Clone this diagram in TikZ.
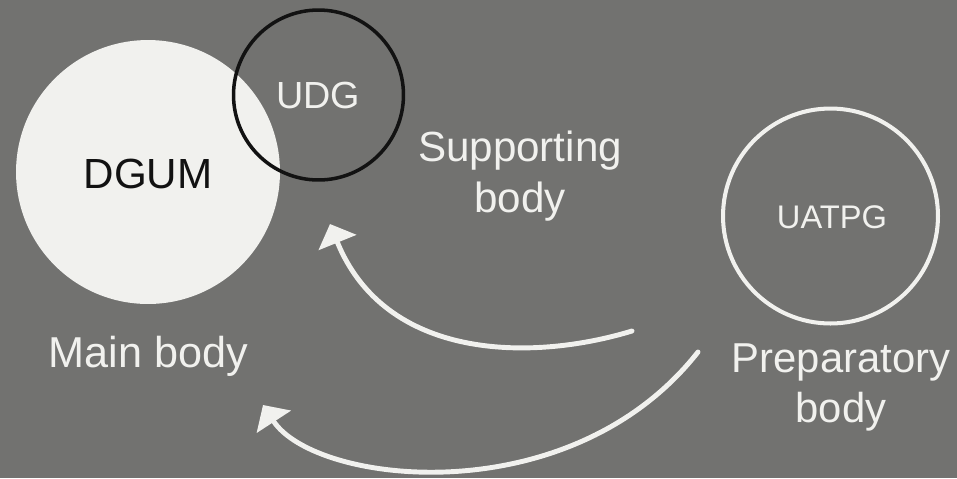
\documentclass[tikz,border=0pt]{standalone}
\usepackage{fontspec}
\setmainfont{Liberation Sans}
\usetikzlibrary{arrows.meta}
\definecolor{slidegray}{RGB}{114,114,112}
\definecolor{bodywhite}{RGB}{241,241,238}
\definecolor{udgblack}{RGB}{18,18,18}
\tikzstyle{every path}=[line cap=round,line join=round]
\tikzstyle{body}=[circle,inner sep=0pt]
\tikzstyle{name text}=[inner sep=0pt,text=bodywhite]
\tikzstyle{flow}=[draw=bodywhite,line width=2.8pt,-{Triangle[width=0.8cm,length=0.4cm]}]

\begin{document}
\begin{tikzpicture}[x=0.02cm,y=-0.02cm]
    % Slide background
    \fill[slidegray] (0,0) rectangle (957,478);
    \useasboundingbox (0,0) rectangle (957,478);

    % Bodies
    \node[body,fill=bodywhite,minimum size=5.28cm] (dgum) at (148,172) {};
    \node[body,draw=udgblack,line width=2pt,minimum size=3.4cm] (udg) at (318.5,95) {};
    \node[body,draw=bodywhite,line width=2.3pt,minimum size=4.3cm] (uatpg) at (830.5,216) {};

    % Names inside the bodies
    \node[name text,text=udgblack,anchor=base,font=\fontsize{24}{28}\selectfont] (dgumname) at (148,188) {DGUM};
    \node[name text,anchor=base,font=\fontsize{21.5}{25}\selectfont] (udgname) at (318,108) {UDG};
    \node[name text,anchor=base,font=\fontsize{18.6}{22}\selectfont] (uatpgname) at (832,228) {UATPG};

    % Captions
    \node[name text,anchor=base,font=\fontsize{24.6}{29}\selectfont] (mainbody) at (148.5,367) {Main body};
    \node[name text,align=center,font=\fontsize{24}{29}\selectfont] (supporting) at (520,176) {Supporting\\body};
    \node[name text,align=center,font=\fontsize{23.8}{28.5}\selectfont] (preparatory) at (841,387) {Preparatory\\body};

    % Arrow ends
    \coordinate (prepup) at (632,331);
    \coordinate (preplow) at (698,352);
    \coordinate (udgtip) at (330,224);
    \coordinate (maintip) at (263,405);

    % Arrows back to the bodies
    \draw[flow] (prepup) .. controls (530,362) and (385,360) .. (udgtip);
    \draw[flow] (preplow) .. controls (570,515) and (315,485) .. (maintip);
\end{tikzpicture}
\end{document}
